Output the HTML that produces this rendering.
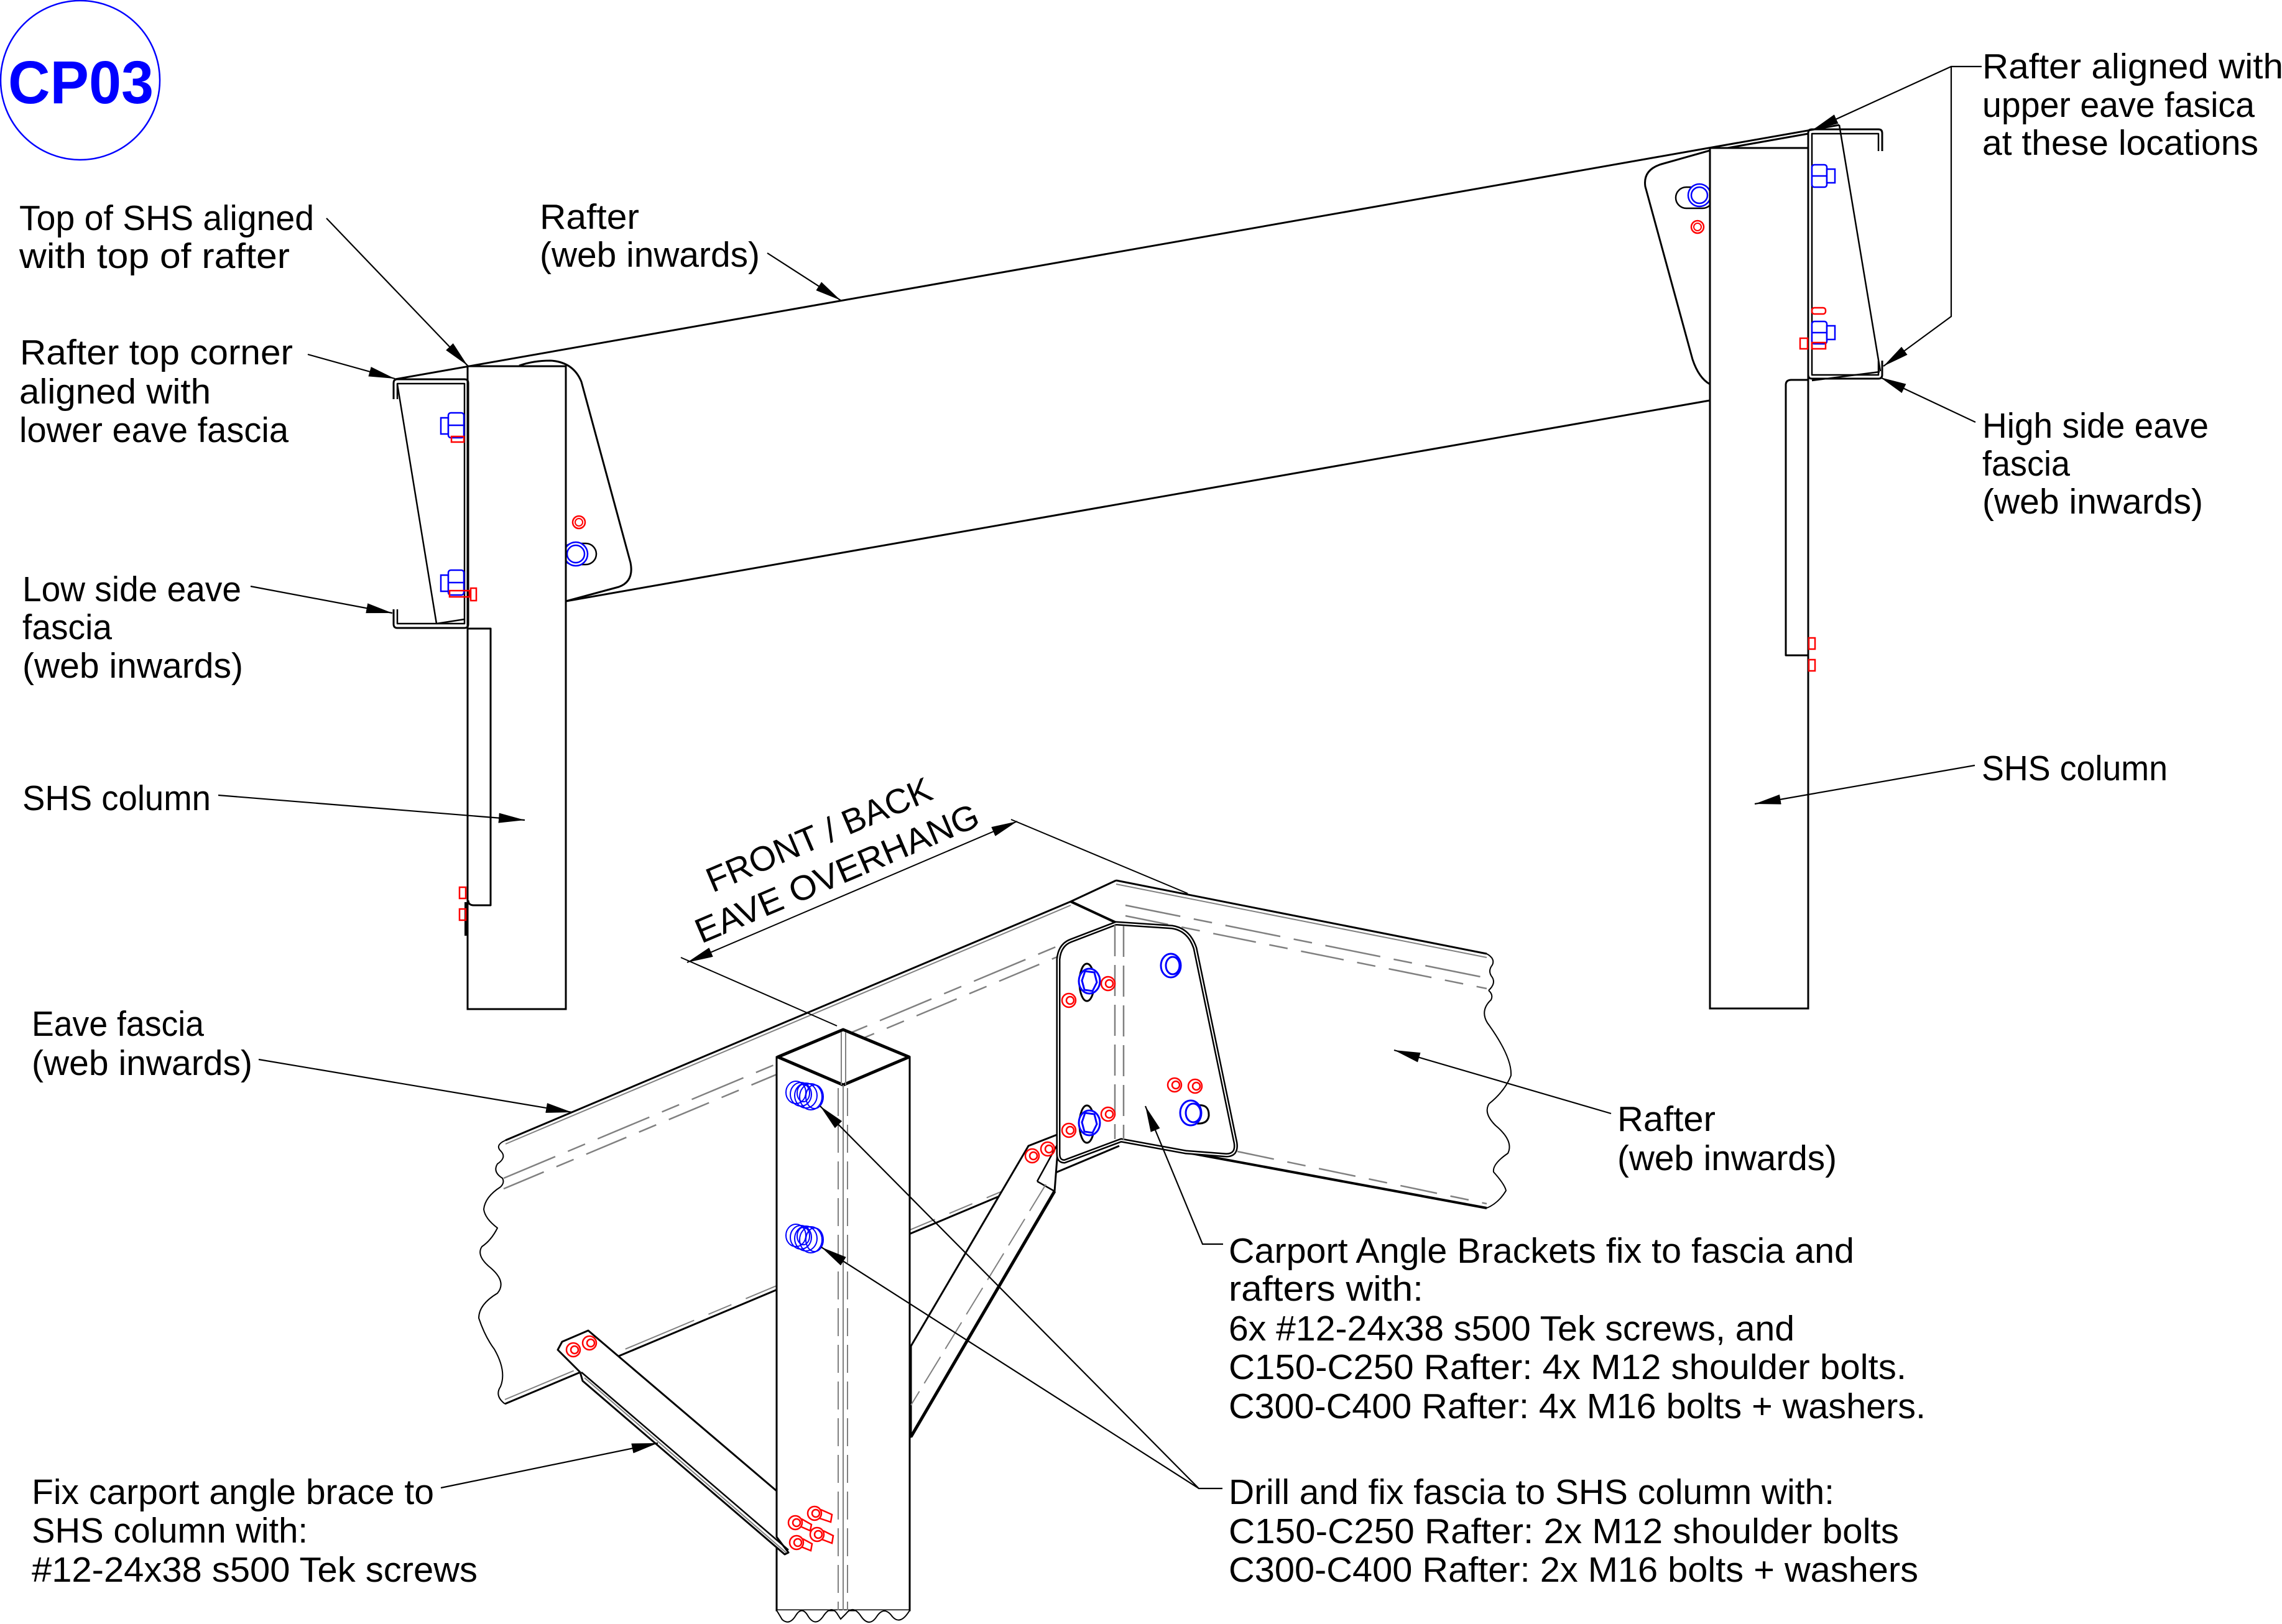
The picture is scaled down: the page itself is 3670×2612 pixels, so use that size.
<!DOCTYPE html>
<html><head><meta charset="utf-8"><style>
html,body{margin:0;padding:0;background:#fff;}
svg{display:block;}
text{font-family:"Liberation Sans",Arial,sans-serif;font-size:57px;fill:#000;}
</style></head><body>
<svg width="3670" height="2612" viewBox="0 0 3670 2612" xmlns="http://www.w3.org/2000/svg">
<defs>
<marker id="ar" markerUnits="userSpaceOnUse" markerWidth="46" markerHeight="20" refX="42" refY="8" orient="auto-start-reverse"><path d="M0,0 L42,8 L0,16 Z" fill="#000"/></marker>
<clipPath id="cl1"><rect x="910" y="0" width="200" height="1200"/></clipPath>
<clipPath id="cl2"><rect x="2600" y="0" width="150" height="700"/></clipPath>
</defs>
<rect width="3670" height="2612" fill="#fff"/>

<!-- CP03 -->
<circle cx="129" cy="129" r="128" fill="none" stroke="#0000ff" stroke-width="2.5"/>
<text x="13" y="166" font-weight="bold" style="fill:#0000ff;font-size:97px" textLength="234" lengthAdjust="spacingAndGlyphs">CP03</text>

<!-- ============ TOP ELEVATION ============ -->
<g fill="none" stroke="#000" stroke-width="3" stroke-linejoin="round">
  <line x1="635" y1="610" x2="2958" y2="201"/>
  <line x1="2750" y1="243" x2="2908" y2="215"/>
  <line x1="910" y1="967" x2="2750" y2="644"/>
  <path d="M835,588 Q858,580 885,580 Q922,582 935,614 L1014,905 Q1020,935 995,944 L910,967"/>
  <path d="M2750,242 L2672,264 Q2642,273 2646,300 L2722,578 Q2732,608 2750,618"/>
</g>
<g clip-path="url(#cl1)" fill="none" stroke-width="2.5">
  <rect x="905" y="874" width="54" height="34" rx="17" stroke="#000"/>
  <circle cx="926" cy="891" r="19" stroke="#0000ff" fill="#fff"/>
  <circle cx="926" cy="891" r="14" stroke="#0000ff"/>
</g>
<circle cx="931" cy="840" r="10" fill="none" stroke="#ff0000" stroke-width="2.5"/>
<circle cx="931" cy="840" r="6" fill="none" stroke="#ff0000" stroke-width="2"/>
<g clip-path="url(#cl2)" fill="none" stroke-width="2.5">
  <rect x="2695" y="301" width="60" height="34" rx="17" stroke="#000"/>
  <circle cx="2733" cy="314" r="18" stroke="#0000ff" fill="#fff"/>
  <circle cx="2733" cy="314" r="13" stroke="#0000ff"/>
</g>
<circle cx="2730" cy="365" r="10" fill="none" stroke="#ff0000" stroke-width="2.5"/>
<circle cx="2730" cy="365" r="6" fill="none" stroke="#ff0000" stroke-width="2"/>

<g fill="#fff" stroke="#000" stroke-width="3">
  <rect x="752" y="589" width="158" height="1034"/>
  <rect x="2750" y="238" width="158" height="1384"/>
</g>

<g fill="none" stroke="#000" stroke-width="3" stroke-linejoin="round">
  <path d="M633,642 L633,616 Q633,610 639,610 L747,610 Q753,610 753,616 L753,1004 Q753,1010 747,1010 L639,1010 Q633,1010 633,1004 L633,980"/>
  <path d="M639,642 L639,617 L747,617 L747,1003 L639,1003 L639,980" stroke-width="2.5"/>
  <line x1="639" y1="618" x2="702" y2="1003" stroke-width="2.5"/>
  <line x1="702" y1="1003" x2="747" y2="996" stroke-width="2.5"/>
  <path d="M753,1011 L789,1011 L789,1456 L762,1456 Q753,1456 753,1448"/>
  <line x1="749" y1="1451" x2="749" y2="1505" stroke-width="4"/>
  <path d="M3027,243 L3027,214 Q3027,208 3021,208 L2914,208 Q2908,208 2908,214 L2908,603 Q2908,609 2914,609 L3021,609 Q3027,609 3027,603 L3027,580"/>
  <path d="M3021,243 L3021,215 L2914,215 L2914,603 L3021,603 L3021,580" stroke-width="2.5"/>
  <line x1="2958" y1="201" x2="3024" y2="597" stroke-width="2.5"/>
  <line x1="3023" y1="598" x2="2914" y2="612" stroke-width="2.5"/>
  <path d="M2908,611 L2881,611 Q2872,611 2872,619 L2872,1054 L2908,1054"/>
</g>

<g fill="#fff" stroke="#0000ff" stroke-width="2.5">
  <rect x="709" y="672" width="12" height="26"/>
  <rect x="721" y="664" width="25" height="40" rx="4"/>
  <line x1="721" y1="684" x2="746" y2="684"/>
  <rect x="709" y="925" width="12" height="26"/>
  <rect x="721" y="917" width="25" height="40" rx="4"/>
  <line x1="721" y1="937" x2="746" y2="937"/>
  <rect x="2914" y="265" width="24" height="36" rx="4"/>
  <rect x="2938" y="272" width="13" height="22"/>
  <line x1="2914" y1="283" x2="2938" y2="283"/>
  <rect x="2914" y="517" width="24" height="36" rx="4"/>
  <rect x="2938" y="524" width="13" height="22"/>
  <line x1="2914" y1="535" x2="2938" y2="535"/>
</g>
<g fill="none" stroke="#ff0000" stroke-width="2.5">
  <rect x="726" y="702" width="20" height="9"/>
  <rect x="723" y="950" width="32" height="10"/>
  <rect x="757" y="946" width="9" height="20"/>
  <rect x="2914" y="495" width="22" height="10" rx="4"/>
  <rect x="2895" y="544" width="12" height="17"/>
  <rect x="2914" y="551" width="22" height="10"/>
  <rect x="2909" y="1026" width="10" height="18"/>
  <rect x="2909" y="1061" width="10" height="18"/>
  <rect x="739" y="1427" width="10" height="18"/>
  <rect x="739" y="1462" width="10" height="18"/>
</g>

<!-- ============ ISO DETAIL ============ -->
<g fill="none" stroke="#808080" stroke-width="2.5">
  <line x1="813" y1="1840" x2="1722" y2="1456" stroke-width="2"/>
  <line x1="810" y1="1895" x2="1705" y2="1520" stroke-dasharray="90,22,30,22"/>
  <line x1="810" y1="1912" x2="1705" y2="1537" stroke-dasharray="70,22,30,22"/>
  <line x1="812" y1="2251" x2="1700" y2="1879" stroke-width="2" stroke-dasharray="120,25,40,25"/>
  <line x1="1795" y1="1422" x2="2391" y2="1540" stroke-width="2"/>
  <line x1="1810" y1="1456" x2="2391" y2="1573" stroke-dasharray="90,22,30,22"/>
  <line x1="1810" y1="1473" x2="2391" y2="1590" stroke-dasharray="70,22,30,22"/>
  <line x1="1990" y1="1852" x2="2391" y2="1936" stroke-dasharray="60,22,30,22"/>
</g>
<g fill="none" stroke="#000" stroke-width="3" stroke-linejoin="round">
  <line x1="813" y1="1834" x2="1722" y2="1450"/>
  <line x1="1722" y1="1450" x2="1795" y2="1416"/>
  <line x1="1722" y1="1450" x2="1795" y2="1484" stroke-width="4"/>
  <line x1="1795" y1="1416" x2="2391" y2="1534"/>
  <line x1="812" y1="2258" x2="1800" y2="1843"/>
  <line x1="1803" y1="1834" x2="2391" y2="1943" stroke-width="4"/>
  <path d="M813,1834 Q795,1842 806,1852 Q815,1862 800,1872 Q792,1885 808,1895 Q812,1902 805,1909" stroke-width="2"/>
  <path d="M805,1909 Q780,1925 778,1945 Q780,1960 800,1975 Q790,1995 775,2005 Q765,2020 790,2040 Q815,2062 800,2080 Q770,2098 770,2120 Q780,2150 795,2170 Q815,2205 805,2230 Q795,2245 812,2258" stroke-width="2"/>
  <path d="M2391,1534 Q2405,1542 2400,1552 Q2392,1562 2400,1572 Q2406,1582 2394,1593" stroke-width="2"/>
  <path d="M2394,1593 Q2402,1600 2398,1608 Q2380,1625 2392,1645 Q2432,1700 2430,1730 Q2420,1755 2395,1775 Q2385,1790 2405,1810 Q2435,1835 2425,1855 Q2400,1872 2402,1885 Q2420,1905 2422,1915 Q2410,1935 2391,1943" stroke-width="2"/>
</g>

<g stroke="#000" stroke-width="3" stroke-linejoin="round">
  <path d="M1654,1843 L1700,1825 L1702,1838 L1696,1916 L1465,2311 L1465,2165 Z" fill="#fff"/>
  <line x1="1702" y1="1838" x2="1668" y2="1900" stroke-width="2.5"/>
  <line x1="1668" y1="1900" x2="1696" y2="1916" stroke-width="2.5"/>
  <line x1="1682" y1="1905" x2="1465" y2="2260" stroke="#808080" stroke-width="2" stroke-dasharray="50,15"/>
  <line x1="1696" y1="1916" x2="1465" y2="2311" stroke-width="5"/>
</g>

<path d="M1795,1485 L1885,1491 Q1912,1495 1922,1525 L1987,1838 Q1990,1858 1972,1858 L1907,1853 L1803,1834 L1712,1868 Q1702,1868 1702,1856 L1702,1543 Q1704,1520 1722,1513 Z" fill="#fff" stroke="#000" stroke-width="7" stroke-linejoin="round"/>
<path d="M1795,1485 L1885,1491 Q1912,1495 1922,1525 L1987,1838 Q1990,1858 1972,1858 L1907,1853 L1803,1834 L1712,1868 Q1702,1868 1702,1856 L1702,1543 Q1704,1520 1722,1513 Z" fill="none" stroke="#fff" stroke-width="2" stroke-linejoin="round"/>
<g stroke="#808080" stroke-width="2.5" stroke-dasharray="50,14">
  <line x1="1793" y1="1488" x2="1793" y2="1832"/>
  <line x1="1807" y1="1489" x2="1807" y2="1833"/>
</g>
<g fill="none" stroke="#000" stroke-width="3">
  <ellipse cx="1748" cy="1580" rx="12" ry="30"/>
  <ellipse cx="1748" cy="1808" rx="12" ry="30"/>
  <path d="M1925,1778 Q1945,1775 1944,1795 Q1942,1808 1925,1807"/>
</g>
<g fill="#fff" stroke="#0000ff" stroke-width="3">
  <ellipse cx="1752" cy="1578" rx="17" ry="20"/>
  <path d="M1745,1562 L1760,1564 L1764,1580 L1757,1594 L1744,1592 L1740,1577 Z" fill="none"/>
  <ellipse cx="1752" cy="1806" rx="17" ry="20"/>
  <path d="M1745,1790 L1760,1792 L1764,1808 L1757,1822 L1744,1820 L1740,1805 Z" fill="none"/>
  <ellipse cx="1883" cy="1553" rx="16" ry="19"/>
  <ellipse cx="1886" cy="1553" rx="11" ry="14" fill="none"/>
  <ellipse cx="1915" cy="1790" rx="17" ry="20"/>
  <ellipse cx="1919" cy="1790" rx="12" ry="15" fill="none"/>
</g>
<g fill="none" stroke="#ff0000" stroke-width="2.5">
  <circle cx="1782" cy="1582" r="11"/><circle cx="1784" cy="1582" r="6"/>
  <circle cx="1719" cy="1609" r="11"/><circle cx="1721" cy="1609" r="6"/>
  <circle cx="1782" cy="1792" r="11"/><circle cx="1784" cy="1792" r="6"/>
  <circle cx="1719" cy="1818" r="11"/><circle cx="1721" cy="1818" r="6"/>
  <circle cx="1889" cy="1745" r="11"/><circle cx="1891" cy="1745" r="6"/>
  <circle cx="1922" cy="1747" r="11"/><circle cx="1924" cy="1747" r="6"/>
  <circle cx="1660" cy="1859" r="11"/><circle cx="1662" cy="1859" r="6"/>
  <circle cx="1685" cy="1848" r="11"/><circle cx="1687" cy="1848" r="6"/>
</g>

<path d="M1249,1700 L1356,1656 L1463,1700 L1463,2590 L1249,2590 Z" fill="#fff" stroke="#000" stroke-width="3"/>
<path d="M1251,1700 L1356,1656 L1462,1700 L1356,1745 Z" fill="none" stroke="#000" stroke-width="5" stroke-linejoin="round"/>
<g stroke="#808080" stroke-width="2">
  <line x1="1353" y1="1660" x2="1353" y2="1745"/>
  <line x1="1360" y1="1660" x2="1360" y2="1745"/>
  <line x1="1356" y1="1745" x2="1356" y2="2592"/>
  <line x1="1348" y1="1750" x2="1348" y2="2592" stroke-dasharray="45,14"/>
  <line x1="1363" y1="1750" x2="1363" y2="2592" stroke-dasharray="45,14"/>
</g>
<path d="M1249,2590 L1258,2605 Q1270,2615 1280,2598 Q1290,2582 1300,2600 Q1312,2618 1325,2598 Q1338,2580 1348,2598 L1352,2604 L1360,2596 Q1372,2580 1385,2600 Q1398,2618 1410,2600 Q1422,2582 1435,2600 Q1448,2615 1463,2590" fill="#fff" stroke="#000" stroke-width="2"/>

<g fill="none" stroke="#0000ff" stroke-width="2">
  <ellipse cx="1280" cy="1757" rx="16" ry="18"/><ellipse cx="1288" cy="1760" rx="17" ry="19"/>
  <ellipse cx="1296" cy="1762" rx="18" ry="20"/><ellipse cx="1304" cy="1764" rx="18" ry="21"/>
  <ellipse cx="1310" cy="1764" rx="14" ry="19"/><ellipse cx="1292" cy="1758" rx="10" ry="14"/>
  <ellipse cx="1280" cy="1987" rx="16" ry="18"/><ellipse cx="1288" cy="1990" rx="17" ry="19"/>
  <ellipse cx="1296" cy="1992" rx="18" ry="20"/><ellipse cx="1304" cy="1994" rx="18" ry="21"/>
  <ellipse cx="1310" cy="1994" rx="14" ry="19"/><ellipse cx="1292" cy="1988" rx="10" ry="14"/>
</g>
<g fill="none" stroke="#ff0000" stroke-width="2.5">
  <circle cx="1310" cy="2434" r="11"/><circle cx="1312" cy="2434" r="6"/>
  <path d="M1320,2428 L1338,2436 L1336,2448 L1318,2442"/>
  <circle cx="1279" cy="2449" r="11"/><circle cx="1281" cy="2449" r="6"/>
  <path d="M1289,2443 L1305,2452 L1303,2462 L1287,2455"/>
  <circle cx="1314" cy="2468" r="11"/><circle cx="1316" cy="2468" r="6"/>
  <path d="M1324,2462 L1340,2470 L1338,2482 L1322,2476"/>
  <circle cx="1281" cy="2481" r="11"/><circle cx="1283" cy="2481" r="6"/>
  <path d="M1291,2475 L1306,2483 L1304,2494 L1289,2488"/>
</g>

<g stroke="#000" stroke-width="3" stroke-linejoin="round">
  <path d="M897,2171 L904,2158 L946,2140 L1249,2398 L1249,2472 L1268,2497 L1262,2500 L937,2221 L933,2207 Z" fill="#fff"/>
  <line x1="935" y1="2207" x2="1268" y2="2493" stroke-width="2.5"/>
  <line x1="940" y1="2216" x2="1264" y2="2497" stroke="#808080" stroke-width="2"/>
</g>
<g fill="none" stroke="#ff0000" stroke-width="2.5">
  <circle cx="922" cy="2171" r="11"/><circle cx="924" cy="2171" r="6"/>
  <circle cx="948" cy="2160" r="11"/><circle cx="950" cy="2160" r="6"/>
</g>

<g fill="none" stroke="#000" stroke-width="2">
  <line x1="1095" y1="1540" x2="1346" y2="1650"/>
  <line x1="1626" y1="1318" x2="1910" y2="1437"/>
  <line x1="1105" y1="1548" x2="1636" y2="1321" marker-start="url(#ar)" marker-end="url(#ar)"/>
</g>
<text transform="translate(1146,1436) rotate(-23)" x="0" y="0" style="font-size:56px" textLength="388" lengthAdjust="spacingAndGlyphs">FRONT / BACK</text>
<text transform="translate(1128,1518) rotate(-23)" x="0" y="0" style="font-size:56px" textLength="490" lengthAdjust="spacingAndGlyphs">EAVE OVERHANG</text>

<g fill="none" stroke="#000" stroke-width="2.2" marker-end="url(#ar)">
  <path d="M525,351 L752,588"/>
  <path d="M495,570 L635,609"/>
  <path d="M403,943 L631,986"/>
  <path d="M351,1279 L844,1319"/>
  <path d="M1234,407 L1352,483"/>
  <path d="M3187,107 L3138,107 L2915,209"/>
  <path d="M3138,107 L3138,509 L3029,589"/>
  <path d="M3177,679 L3024,607"/>
  <path d="M3176,1231 L2822,1293"/>
  <path d="M416,1704 L920,1789"/>
  <path d="M709,2393 L1058,2321"/>
  <path d="M2591,1791 L2242,1689"/>
  <path d="M1967,2001 L1934,2001 L1842,1779"/>
  <path d="M1966,2394 L1928,2394 L1319,1779"/>
  <path d="M1928,2394 L1321,2006"/>
</g>

<g>
<text x="31" y="370" textLength="474" lengthAdjust="spacingAndGlyphs">Top of SHS aligned</text>
<text x="31" y="431" textLength="435" lengthAdjust="spacingAndGlyphs">with top of rafter</text>
<text x="32" y="586" textLength="439" lengthAdjust="spacingAndGlyphs">Rafter top corner</text>
<text x="31" y="649" textLength="308" lengthAdjust="spacingAndGlyphs">aligned with</text>
<text x="31" y="711" textLength="433" lengthAdjust="spacingAndGlyphs">lower eave fascia</text>
<text x="36" y="967" textLength="352" lengthAdjust="spacingAndGlyphs">Low side eave</text>
<text x="36" y="1028" textLength="144" lengthAdjust="spacingAndGlyphs">fascia</text>
<text x="36" y="1090" textLength="355" lengthAdjust="spacingAndGlyphs">(web inwards)</text>
<text x="36" y="1303" textLength="303" lengthAdjust="spacingAndGlyphs">SHS column</text>
<text x="51" y="1666" textLength="277" lengthAdjust="spacingAndGlyphs">Eave fascia</text>
<text x="51" y="1729" textLength="355" lengthAdjust="spacingAndGlyphs">(web inwards)</text>
<text x="51" y="2419" textLength="647" lengthAdjust="spacingAndGlyphs">Fix carport angle brace to</text>
<text x="51" y="2481" textLength="444" lengthAdjust="spacingAndGlyphs">SHS column with:</text>
<text x="51" y="2544" textLength="717" lengthAdjust="spacingAndGlyphs">#12-24x38 s500 Tek screws</text>

<text x="868" y="368" textLength="160" lengthAdjust="spacingAndGlyphs">Rafter</text>
<text x="868" y="429" textLength="354" lengthAdjust="spacingAndGlyphs">(web inwards)</text>

<text x="3188" y="126" textLength="484" lengthAdjust="spacingAndGlyphs">Rafter aligned with</text>
<text x="3188" y="188" textLength="438" lengthAdjust="spacingAndGlyphs">upper eave fasica</text>
<text x="3188" y="249" textLength="444" lengthAdjust="spacingAndGlyphs">at these locations</text>
<text x="3188" y="704" textLength="364" lengthAdjust="spacingAndGlyphs">High side eave</text>
<text x="3188" y="765" textLength="141" lengthAdjust="spacingAndGlyphs">fascia</text>
<text x="3188" y="826" textLength="355" lengthAdjust="spacingAndGlyphs">(web inwards)</text>
<text x="3187" y="1255" textLength="299" lengthAdjust="spacingAndGlyphs">SHS column</text>

<text x="2601" y="1819" textLength="158" lengthAdjust="spacingAndGlyphs">Rafter</text>
<text x="2601" y="1882" textLength="353" lengthAdjust="spacingAndGlyphs">(web inwards)</text>

<text x="1976" y="2031" textLength="1006" lengthAdjust="spacingAndGlyphs">Carport Angle Brackets fix to fascia and</text>
<text x="1976" y="2092" textLength="313" lengthAdjust="spacingAndGlyphs">rafters with:</text>
<text x="1976" y="2156" textLength="910" lengthAdjust="spacingAndGlyphs">6x #12-24x38 s500 Tek screws, and</text>
<text x="1976" y="2218" textLength="1090" lengthAdjust="spacingAndGlyphs">C150-C250 Rafter: 4x M12 shoulder bolts.</text>
<text x="1976" y="2281" textLength="1121" lengthAdjust="spacingAndGlyphs">C300-C400 Rafter: 4x M16 bolts + washers.</text>

<text x="1976" y="2419" textLength="974" lengthAdjust="spacingAndGlyphs">Drill and fix fascia to SHS column with:</text>
<text x="1976" y="2482" textLength="1078" lengthAdjust="spacingAndGlyphs">C150-C250 Rafter: 2x M12 shoulder bolts</text>
<text x="1976" y="2544" textLength="1109" lengthAdjust="spacingAndGlyphs">C300-C400 Rafter: 2x M16 bolts + washers</text>
</g>
</svg>
</body></html>
